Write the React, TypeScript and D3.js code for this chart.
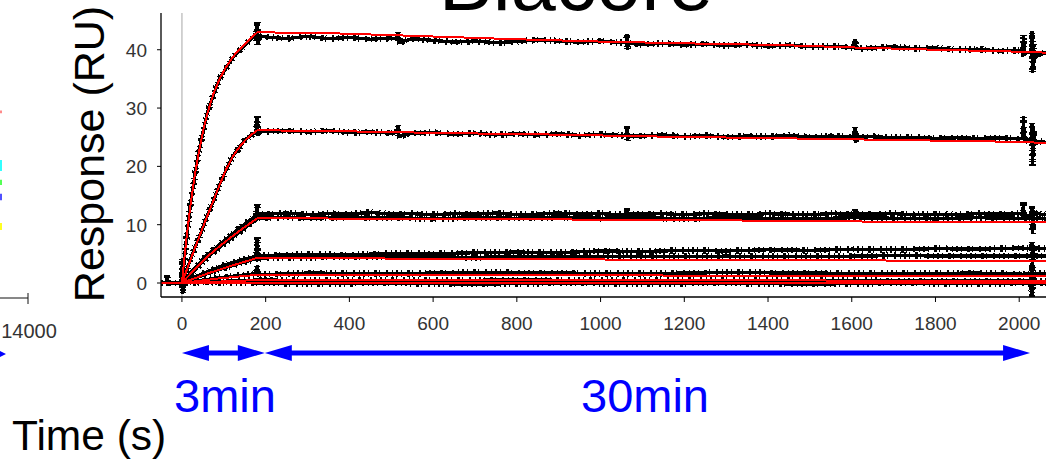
import React from 'react';
import * as d3 from 'd3';

type Pt = [number, number];

const W = 1046;
const H = 460;

const X_TICKS = [0, 200, 400, 600, 800, 1000, 1200, 1400, 1600, 1800, 2000];
const Y_TICKS = [0, 10, 20, 30, 40];

// Fitted 1:1 binding curves (time s, response RU)
const FIT_1: Pt[] = [[0, 0], [10, 7.1], [20, 13.1], [30, 18.1], [40, 22.3], [50, 25.9], [60, 28.9], [75, 32.4], [90, 35.0], [105, 37.0], [120, 38.6], [135, 39.9], [150, 41.0], [165, 42.0], [180, 43.0], [370, 42.8], [545, 42.4], [800, 41.8], [1000, 41.4], [1200, 41.1], [1430, 40.8], [1600, 40.4], [1800, 40.0], [1980, 39.7], [2064, 39.5]];
const FIT_2: Pt[] = [[0, 0], [15, 2.9], [30, 5.8], [45, 8.6], [60, 11.4], [75, 14.1], [90, 16.8], [105, 19.4], [120, 21.5], [135, 23.1], [150, 24.4], [165, 25.4], [180, 26.2], [400, 26.0], [640, 25.7], [850, 25.5], [1150, 25.1], [1450, 24.8], [1730, 24.5], [2000, 24.2], [2064, 24.0]];
const FIT_3: Pt[] = [[0, 0], [30, 2.3], [60, 4.5], [90, 6.3], [120, 8.0], [150, 9.6], [180, 11.1], [600, 11.0], [1200, 10.8], [1700, 10.5], [2064, 10.4]];
const FIT_4: Pt[] = [[0, 0], [60, 1.6], [120, 3.0], [180, 4.3], [800, 4.1], [1400, 3.9], [2064, 3.8]];
const FIT_5: Pt[] = [[0, 0], [90, 0.8], [180, 1.4], [1000, 1.3], [2064, 1.2]];
const FIT_6: Pt[] = [[0, 0], [180, 0.5], [2064, 0.4]];
const FIT_0: Pt[] = [[-50, 0], [2064, 0]];

// Measured sensorgrams (reference-subtracted)
const RUN_1: Pt[] = [[0, 0], [10, 7.0], [20, 13.3], [30, 18.0], [40, 22.5], [50, 25.7], [60, 29.0], [75, 32.2], [90, 35.1], [105, 36.8], [120, 38.5], [135, 39.7], [150, 40.8], [165, 41.8], [178, 42.5], [180, 44.8], [181, 40.8], [184, 42.4], [200, 42.2], [250, 41.9], [300, 42.3], [350, 41.9], [400, 42.1], [450, 41.8], [500, 42.0], [515, 41.8], [516, 43.1], [517, 41.2], [550, 41.9], [600, 41.6], [650, 41.3], [700, 41.5], [750, 41.2], [800, 41.4], [850, 41.7], [900, 41.5], [950, 41.3], [1000, 41.5], [1050, 41.2], [1062, 41.3], [1063, 42.7], [1064, 40.0], [1066, 41.1], [1100, 40.9], [1150, 41.1], [1200, 40.8], [1250, 41.0], [1300, 40.7], [1350, 40.9], [1400, 40.6], [1450, 40.8], [1500, 40.5], [1550, 40.6], [1600, 40.4], [1607, 40.5], [1608, 41.9], [1609, 40.2], [1650, 40.3], [1700, 40.5], [1750, 40.2], [1800, 40.3], [1850, 40.0], [1900, 40.1], [1950, 39.8], [2000, 39.9], [2009, 39.7], [2010, 42.6], [2012, 39.4], [2030, 39.6], [2031, 43.2], [2032, 36.0], [2034, 41.0], [2036, 38.5], [2050, 39.5], [2064, 39.4]];
const RUN_2: Pt[] = [[0, 0], [15, 3.0], [30, 5.9], [45, 8.5], [60, 11.5], [75, 14.0], [90, 16.9], [105, 19.3], [120, 21.6], [135, 23.0], [150, 24.5], [165, 25.3], [178, 25.9], [180, 28.7], [181, 25.2], [184, 26.1], [200, 26.0], [250, 26.1], [300, 25.9], [350, 26.1], [400, 25.8], [450, 25.9], [500, 25.7], [515, 25.8], [516, 27.0], [517, 25.1], [550, 25.7], [600, 25.8], [650, 25.5], [700, 25.7], [750, 25.4], [800, 25.6], [850, 25.4], [900, 25.6], [950, 25.3], [1000, 25.5], [1050, 25.3], [1062, 25.4], [1063, 26.9], [1064, 24.4], [1066, 25.2], [1100, 25.2], [1150, 25.4], [1200, 25.1], [1250, 25.3], [1300, 25.0], [1350, 25.2], [1400, 25.1], [1450, 25.3], [1500, 25.0], [1550, 25.2], [1600, 25.0], [1607, 25.1], [1608, 26.7], [1609, 24.0], [1611, 25.0], [1650, 25.1], [1700, 24.9], [1750, 25.0], [1800, 24.8], [1850, 24.9], [1900, 24.8], [1950, 24.9], [2000, 24.7], [2009, 24.8], [2010, 28.6], [2012, 24.4], [2030, 24.6], [2031, 27.5], [2032, 20.0], [2034, 26.5], [2036, 24.0], [2050, 24.3], [2064, 24.1]];
const RUN_3A: Pt[] = [[0, 0], [30, 2.5], [60, 4.8], [90, 6.6], [120, 8.4], [150, 10.1], [178, 11.6], [180, 13.5], [181, 10.8], [184, 11.9], [200, 11.8], [250, 12.0], [300, 11.7], [350, 11.9], [400, 11.8], [450, 12.1], [500, 11.8], [550, 11.9], [600, 11.7], [650, 11.9], [700, 11.8], [750, 12.0], [800, 11.7], [850, 11.8], [900, 12.0], [950, 11.8], [1000, 11.9], [1050, 11.7], [1062, 11.8], [1063, 12.9], [1064, 11.5], [1066, 11.8], [1100, 11.8], [1150, 11.9], [1200, 11.7], [1250, 11.9], [1300, 11.8], [1350, 11.7], [1400, 11.9], [1450, 11.8], [1500, 11.7], [1550, 11.9], [1600, 11.8], [1607, 11.8], [1608, 12.6], [1609, 11.5], [1611, 11.8], [1650, 11.8], [1700, 11.9], [1750, 11.7], [1800, 11.8], [1850, 11.7], [1900, 11.9], [1950, 11.8], [2000, 11.9], [2009, 11.8], [2010, 13.8], [2012, 11.4], [2030, 11.7], [2031, 13.2], [2032, 8.5], [2034, 12.2], [2050, 11.8], [2064, 11.7]];
const RUN_3B: Pt[] = [[0, 0], [30, 2.2], [60, 4.4], [90, 6.1], [120, 7.8], [150, 9.4], [178, 10.9], [180, 11.4], [184, 11.1], [250, 11.3], [300, 11.1], [400, 11.3], [500, 11.2], [600, 11.0], [700, 11.2], [800, 11.1], [900, 11.3], [1000, 11.1], [1100, 11.2], [1200, 11.0], [1300, 11.2], [1400, 11.1], [1500, 11.0], [1600, 11.2], [1700, 11.1], [1800, 11.0], [1900, 11.2], [2000, 11.1], [2064, 11.0]];
const RUN_4A: Pt[] = [[0, 0], [30, 1.0], [60, 1.9], [90, 2.8], [120, 3.5], [150, 4.1], [178, 4.6], [180, 7.9], [181, 3.8], [184, 4.7], [250, 4.8], [300, 4.9], [400, 4.8], [500, 5.1], [600, 5.0], [700, 5.2], [800, 5.3], [900, 5.2], [1000, 5.5], [1100, 5.4], [1200, 5.6], [1300, 5.5], [1400, 5.7], [1500, 5.6], [1600, 5.8], [1700, 5.7], [1800, 5.9], [1900, 5.8], [2000, 6.0], [2030, 5.9], [2031, 7.0], [2032, 3.5], [2034, 6.0], [2064, 5.9]];
const RUN_4B: Pt[] = [[0, 0], [60, 1.6], [120, 3.0], [178, 4.2], [184, 4.3], [300, 4.4], [500, 4.5], [700, 4.4], [900, 4.6], [1100, 4.5], [1300, 4.6], [1500, 4.5], [1700, 4.7], [1900, 4.6], [2064, 4.6]];
const RUN_5: Pt[] = [[0, 0], [90, 0.9], [178, 1.6], [180, 3.0], [182, 1.4], [300, 1.7], [500, 1.6], [700, 1.8], [900, 1.7], [1100, 1.6], [1300, 1.8], [1500, 1.7], [1700, 1.6], [1900, 1.7], [2010, 1.5], [2030, 1.6], [2031, 3.5], [2032, -1.0], [2034, 1.6], [2064, 1.6]];
const RUN_6: Pt[] = [[0, 0], [180, 0.5], [400, 0.4], [800, 0.5], [1200, 0.4], [1600, 0.4], [2064, 0.3]];
const RUN_0: Pt[] = [[-50, 0], [-36, 0.1], [-35, 1.4], [-34, 0], [-2, 0], [0, 0], [1, 4.3], [2, -1.8], [4, 0.2], [100, 0.1], [300, -0.1], [500, 0], [700, -0.2], [900, 0], [1100, -0.1], [1300, 0], [1500, -0.2], [1700, 0], [1900, -0.1], [2028, 0], [2030, -2.3], [2032, 1.0], [2034, 0], [2064, 0]];

const FITS = [FIT_0, FIT_6, FIT_5, FIT_4, FIT_3, FIT_2, FIT_1];
const RUNS = [RUN_0, RUN_6, RUN_5, RUN_4B, RUN_4A, RUN_3B, RUN_3A, RUN_2, RUN_1];

// Phase annotations (s)
const ASSOC_PHASE: [number, number] = [0, 198];
const DISSOC_PHASE: [number, number] = [198, 2026];

// Tails of the neighbouring panel's curves at its right edge
const NEIGHBOUR_TAILS: { color: string; from: number; to: number }[] = [
  { color: '#ff8a8a', from: 29.6, to: 29.1 },
  { color: '#33ffff', from: 21.1, to: 19.2 },
  { color: '#55ff55', from: 17.7, to: 16.8 },
  { color: '#5050ff', from: 15.3, to: 14.2 },
  { color: '#ffff22', from: 10.3, to: 9.1 },
];

const FONT = "'Liberation Sans', Arial, Helvetica, sans-serif";
const BLUE = '#0000ff';

function Arrow({ x1, x2, y, heads }: { x1: number; x2: number; y: number; heads: [boolean, boolean] }) {
  const hl = 27;
  const hw = 8;
  const a = heads[0] ? x1 + hl - 2 : x1;
  const b = heads[1] ? x2 - hl + 2 : x2;
  return (
    <g fill={BLUE}>
      <rect x={a} y={y - 2.5} width={b - a} height={5} />
      {heads[0] && <polygon points={`${x1},${y} ${x1 + hl},${y - hw} ${x1 + hl},${y + hw}`} />}
      {heads[1] && <polygon points={`${x2},${y} ${x2 - hl},${y - hw} ${x2 - hl},${y + hw}`} />}
    </g>
  );
}

export default function App() {
  const x = d3.scaleLinear().domain([-50, 2064]).range([161, 1046]);
  const y = d3.scaleLinear().domain([-2.4, 46.3]).range([297, 13]);
  const line = d3
    .line<Pt>()
    .x((d) => x(d[0]))
    .y((d) => y(d[1]))
    .curve(d3.curveLinear);

  const axisY = y.range()[0];
  const left = x.range()[0];
  const top = y.range()[1];

  return (
    <svg
      width={W}
      height={H}
      viewBox={`0 0 ${W} ${H}`}
      style={{ position: 'absolute', left: 0, top: 0, background: '#fff' }}
      fontFamily={FONT}
    >
      <defs>
        <clipPath id="plot">
          <rect x={left} y={0} width={W - left} height={axisY + 6} />
        </clipPath>
      </defs>

      {/* neighbouring panel fragment */}
      {NEIGHBOUR_TAILS.map((t, i) => (
        <line key={i} x1={1} x2={1} y1={y(t.from)} y2={y(t.to)} stroke={t.color} strokeWidth={2} />
      ))}
      <line x1={0} x2={28} y1={298} y2={298} stroke="#111" strokeWidth={1} />
      <line x1={28} x2={28} y1={293} y2={304} stroke="#111" strokeWidth={1} />
      <text x={29} y={338} fontSize={20} textAnchor="middle" fill="#333">14000</text>
      <polygon points="0,351 6,354 0,357" fill={BLUE} />

      {/* title */}
      <text x={576} y={10} fontSize={81} textAnchor="middle" fill="#000">Biacore</text>

      {/* injection start marker */}
      <line x1={x(0)} x2={x(0)} y1={top} y2={axisY} stroke="#c4c4c4" strokeWidth={1.5} />

      <g clipPath="url(#plot)">
        {/* measured sensorgrams */}
        {RUNS.map((r, i) => (
          <g key={i} fill="none" stroke="#000" shapeRendering="crispEdges">
            <path d={line(r) ?? ''} strokeWidth={3.4} />
            <path d={line(r) ?? ''} strokeWidth={6.5} strokeDasharray="2 3 1 5 3 2 1 6 2 4 1 3" />
          </g>
        ))}
        {/* fitted curves */}
        {FITS.map((f, i) => (
          <path key={i} d={line(f) ?? ''} fill="none" stroke="#ff0000" strokeWidth={2} shapeRendering="crispEdges" />
        ))}
      </g>

      {/* axes */}
      <line x1={left} x2={left} y1={top} y2={axisY} stroke="#000" strokeWidth={1.3} />
      <line x1={left} x2={W} y1={axisY} y2={axisY} stroke="#000" strokeWidth={1.3} />
      {Y_TICKS.map((v) => (
        <g key={v}>
          <line x1={left - 4} x2={left} y1={y(v)} y2={y(v)} stroke="#000" />
          <text x={left - 14} y={y(v)} dy="0.36em" fontSize={19} textAnchor="end" fill="#333">{v}</text>
        </g>
      ))}
      {X_TICKS.map((v) => (
        <g key={v}>
          <line x1={x(v)} x2={x(v)} y1={axisY} y2={axisY + 5} stroke="#000" />
          <text x={x(v)} y={330} fontSize={19} textAnchor="middle" fill="#333">{v}</text>
        </g>
      ))}

      <text transform="translate(104,154) rotate(-90)" fontSize={43} textAnchor="middle" fill="#000">Response (RU)</text>
      <text x={12} y={450} fontSize={42.5} fill="#000">Time (s)</text>

      {/* phase annotations */}
      <Arrow x1={x(ASSOC_PHASE[0])} x2={x(ASSOC_PHASE[1])} y={353} heads={[true, true]} />
      <Arrow x1={x(DISSOC_PHASE[0])} x2={x(DISSOC_PHASE[1])} y={353} heads={[true, true]} />
      <text x={174} y={412} fontSize={47} fill={BLUE}>3min</text>
      <text x={581} y={412} fontSize={47} fill={BLUE}>30min</text>
    </svg>
  );
}
